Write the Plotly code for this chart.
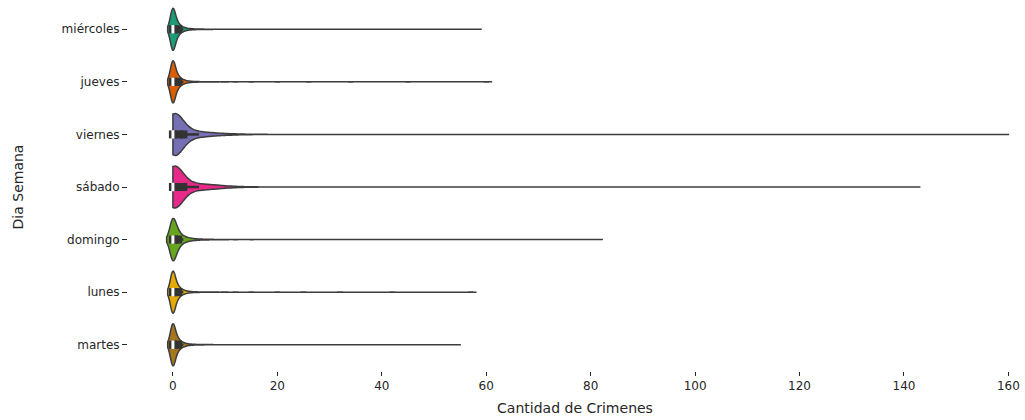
import numpy as np
import plotly.graph_objects as go

# ---------------- data ----------------
days = ["miércoles", "jueves", "viernes", "sábado", "domingo", "lunes", "martes"]
colors = ["#1b9e77", "#d95f02", "#7570b3", "#e7298a", "#66a61e", "#e6ab02", "#a6761d"]

# frequency tables per day: value of "Cantidad de Crimenes" -> number of observations
mie_values = [0, 1, 2, 3, 4, 5, 6, 7, 8, 10, 12, 15, 20, 25, 32, 40, 58]
mie_counts = [650, 150, 55, 20, 10, 6, 4, 3, 2, 2, 1, 1, 1, 1, 1, 1, 1]

jue_values = [0, 1, 2, 3, 4, 5, 6, 7, 8, 10, 12, 15, 20, 26, 34, 45, 60]
jue_counts = [650, 150, 55, 20, 10, 6, 4, 3, 2, 2, 1, 1, 1, 1, 1, 1, 1]

vie_values = [0, 1, 2, 3, 4, 5, 6, 7, 8, 9, 10, 11, 12, 13, 14, 15, 17, 20, 24, 30, 40, 55, 80, 120, 160]
vie_counts = [640, 260, 80, 50, 42, 35, 28, 22, 18, 14, 11, 8, 6, 4, 3, 3, 2, 1, 1, 1, 1, 1, 1, 1, 1]

sab_values = [0, 1, 2, 3, 4, 5, 6, 7, 8, 9, 10, 11, 12, 13, 14, 15, 17, 20, 25, 32, 45, 70, 100, 143]
sab_counts = [690, 250, 80, 50, 45, 40, 36, 32, 26, 20, 15, 10, 7, 5, 4, 3, 2, 1, 1, 1, 1, 1, 1, 1]

dom_values = [0, 1, 2, 3, 4, 5, 6, 7, 8, 10, 12, 15, 20, 28, 36, 50, 65, 81]
dom_counts = [600, 180, 75, 35, 20, 12, 8, 6, 4, 3, 2, 2, 1, 1, 1, 1, 1, 1]

lun_values = [0, 1, 2, 3, 4, 5, 6, 7, 8, 10, 12, 15, 20, 25, 32, 42, 57]
lun_counts = [650, 150, 55, 20, 10, 6, 4, 3, 2, 2, 1, 1, 1, 1, 1, 1, 1]

mar_values = [0, 1, 2, 3, 4, 5, 6, 7, 8, 10, 12, 15, 20, 25, 32, 40, 54]
mar_counts = [650, 150, 55, 20, 10, 6, 4, 3, 2, 2, 1, 1, 1, 1, 1, 1, 1]

x_ticks = [0, 20, 40, 60, 80, 100, 120, 140, 160]

tables = [
    (mie_values, mie_counts),
    (jue_values, jue_counts),
    (vie_values, vie_counts),
    (sab_values, sab_counts),
    (dom_values, dom_counts),
    (lun_values, lun_counts),
    (mar_values, mar_counts),
]

# ---------------- style ----------------
bandwidths = [0.5, 0.5, 1.5, 1.5, 0.6, 0.5, 0.5]
spanmodes = ["soft", "soft", "hard", "hard", "soft", "soft", "soft"]
OUTLINE = "#3d3d3d"
BOXCOL = "#333333"
TEXT = "#262626"
FONT = "DejaVu Sans"
BOX_PX = 8        # thickness of the inner IQR bar
WHISKER_PX = 2.5  # thickness of the inner whisker line

fig = go.Figure()
for day, color, bw, smode, (vals, cnts) in zip(days, colors, bandwidths, spanmodes, tables):
    sample = np.repeat(np.array(vals, dtype=float), cnts)
    fig.add_trace(go.Violin(
        x=sample,
        y=[day] * len(sample),
        orientation="h",
        name=day,
        fillcolor=color,
        line=dict(color=OUTLINE, width=1.5),
        bandwidth=bw,
        spanmode=smode,
        scalemode="width",
        width=0.8,
        points=False,
        box=dict(visible=False),
        meanline=dict(visible=False),
        hoverinfo="skip",
        showlegend=False,
    ))
    q1, med, q3 = np.percentile(sample, [25, 50, 75])
    iqr = q3 - q1
    w_lo = sample[sample >= q1 - 1.5 * iqr].min()
    w_hi = sample[sample <= q3 + 1.5 * iqr].max()
    # whisker
    fig.add_trace(go.Scatter(
        x=[w_lo, w_hi], y=[day, day], mode="lines",
        line=dict(color=BOXCOL, width=WHISKER_PX),
        hoverinfo="skip", showlegend=False,
    ))
    # IQR bar (square markers give projecting caps)
    fig.add_trace(go.Scatter(
        x=[q1, q3], y=[day, day], mode="lines+markers",
        line=dict(color=BOXCOL, width=BOX_PX),
        marker=dict(symbol="square", size=BOX_PX, color=BOXCOL, line=dict(width=0)),
        hoverinfo="skip", showlegend=False,
    ))
    # median
    fig.add_trace(go.Scatter(
        x=[med], y=[day], mode="markers",
        marker=dict(symbol="line-ns", size=6, line=dict(color="white", width=3)),
        hoverinfo="skip", showlegend=False,
    ))

fig.update_layout(
    width=1025,
    height=420,
    margin=dict(l=128, r=3, t=3, b=49),
    plot_bgcolor="white",
    paper_bgcolor="white",
    showlegend=False,
    violinmode="overlay",
    font=dict(family=FONT, size=12, color=TEXT),
)
fig.update_xaxes(
    range=[-8.6, 162.6],
    tickvals=x_ticks,
    ticks="outside",
    ticklen=4,
    tickwidth=1,
    tickcolor=TEXT,
    showgrid=False,
    zeroline=False,
    showline=False,
    tickfont=dict(family=FONT, size=12, color=TEXT),
    title=dict(text="Cantidad de Crimenes", font=dict(family=FONT, size=14, color=TEXT), standoff=10),
)
fig.update_yaxes(
    type="category",
    categoryorder="array",
    categoryarray=days,
    range=[6.5, -0.5],
    ticks="outside",
    ticklen=5,
    tickwidth=1,
    tickcolor=TEXT,
    showgrid=False,
    zeroline=False,
    showline=False,
    tickfont=dict(family=FONT, size=12, color=TEXT),
    title=dict(text="Dia Semana", font=dict(family=FONT, size=14, color=TEXT), standoff=34),
)

fig.write_html("out.html")
